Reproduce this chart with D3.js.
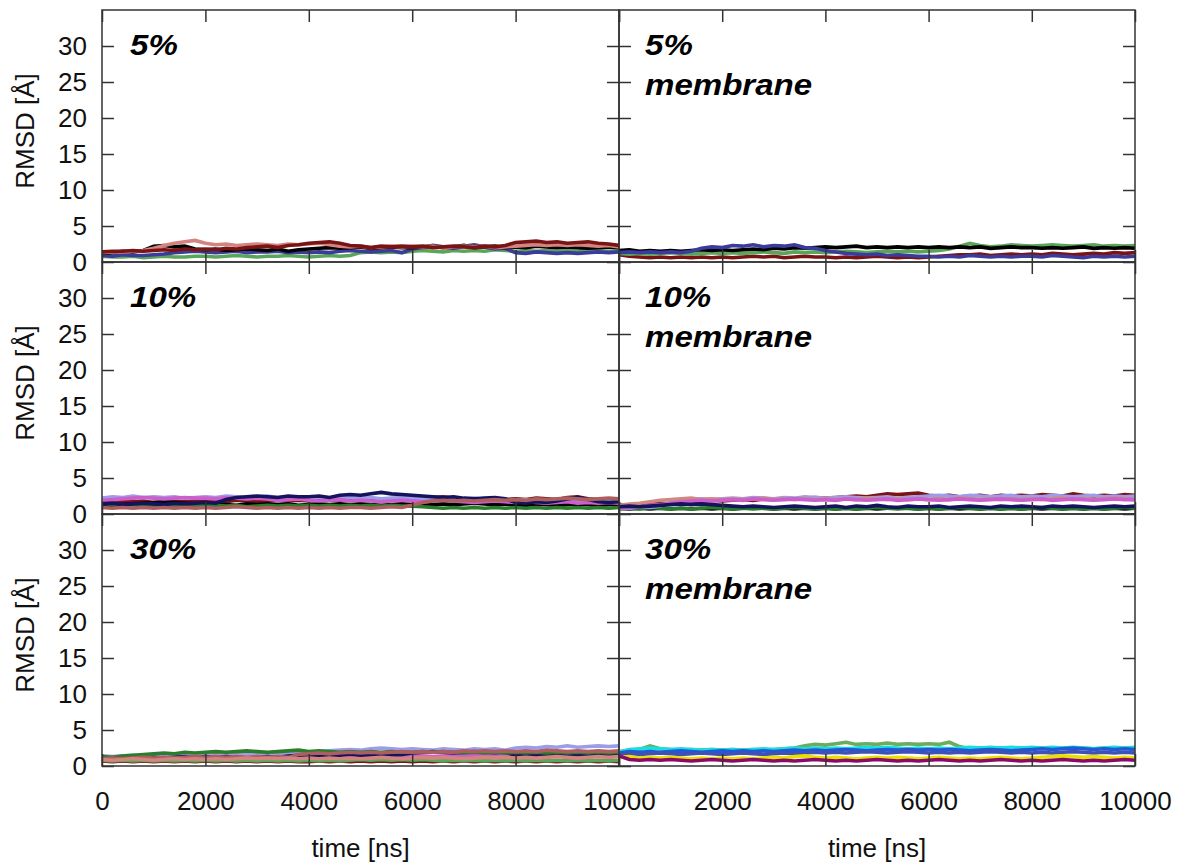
<!DOCTYPE html>
<html>
<head>
<meta charset="utf-8">
<script src="https://cdn.jsdelivr.net/npm/d3@7"></script>
<style>
  html, body { margin: 0; padding: 0; background: #fff; }
  svg { display: block; font-family: "Liberation Sans", Arial, sans-serif; }
</style>
</head>
<body>
<svg id="chart" width="1180" height="866"></svg>
<script>
// Sampling grid of the RMSD traces (ns)
const timeNs = d3.range(0, 10001, 200);

const xTickValues = [0, 2000, 4000, 6000, 8000, 10000];
const yTickValues = [0, 5, 10, 15, 20, 25, 30];
const xLabel = "time [ns]";
const yLabel = "RMSD [Å]";

// ---- 5% ----
const c5_darkred = [1.4,1.5,1.5,1.6,1.5,1.6,1.7,1.6,1.8,1.7, 1.8,1.7,1.9,1.8,2.0,2.1,2.2,2.0,2.3,2.4, 2.6,2.7,2.8,2.6,2.3,2.2,2.0,2.2,2.1,2.2, 2.1,2.2,2.0,2.1,2.2,2.1,2.0,2.2,2.1,2.3, 2.7,2.8,2.9,2.7,2.8,2.6,2.7,2.8,2.6,2.5, 2.3];
const c5_salmon  = [1.3,1.4,1.4,1.5,1.6,1.9,2.3,2.6,2.8,3.0, 2.6,2.4,2.5,2.3,2.4,2.5,2.4,2.3,2.5,2.4, 2.5,2.6,2.4,2.2,2.1,2.2,2.0,2.1,2.2,2.1, 2.2,2.1,2.2,2.0,2.1,2.2,2.1,2.2,2.0,2.1, 2.2,2.3,2.4,2.3,2.4,2.3,2.4,2.3,2.2,2.3, 2.1];
const c5_black   = [1.2,1.3,1.5,1.4,1.6,2.2,2.3,2.1,2.2,1.8, 1.7,1.8,1.6,1.7,1.8,1.7,1.6,1.8,1.5,1.7, 1.8,1.9,2.0,1.9,2.0,2.1,1.9,2.0,2.1,2.0, 2.0,2.1,2.2,2.0,2.1,2.3,2.0,2.1,2.2,2.0, 2.1,2.0,2.2,2.1,2.0,2.1,2.0,1.9,2.0,2.1, 2.0];
const c5_blue    = [0.9,0.8,1.0,0.9,0.9,1.0,1.1,1.3,1.4,1.5, 1.4,1.3,1.4,1.5,1.3,1.4,1.4,1.5,1.3,1.4, 1.3,1.4,1.3,1.5,1.6,1.5,1.4,1.5,1.6,1.3, 1.8,2.0,2.3,2.1,1.9,2.2,2.4,2.1,1.8,1.9, 1.3,1.2,1.4,1.3,1.2,1.3,1.2,1.3,1.4,1.3, 1.4];
const c5_green   = [0.8,0.7,0.7,0.8,0.6,0.7,0.8,0.7,0.7,0.8, 0.8,0.7,0.8,0.9,0.8,0.7,0.8,0.8,0.9,0.8, 0.7,0.8,0.9,0.8,0.9,1.3,1.4,1.3,1.4,1.3, 1.5,1.6,1.5,1.4,1.6,1.5,1.6,1.5,1.7,1.6, 1.5,1.6,1.5,1.6,1.5,1.6,1.5,1.7,1.6,1.5, 1.6];

// ---- 5% membrane ----
const m5_darkred = [1.0,0.8,0.7,0.6,0.7,0.6,0.7,0.6,0.7,0.6, 0.7,0.6,0.7,0.8,0.7,0.8,0.6,0.7,0.8,0.7, 0.7,0.6,0.7,0.6,0.7,0.8,0.7,0.6,0.7,0.6, 0.7,0.8,0.9,1.0,1.0,1.1,0.9,1.0,1.1,1.0, 1.1,1.0,1.2,1.1,1.0,1.1,1.2,1.1,1.3,1.2, 1.3];
const m5_green   = [1.2,1.1,1.2,1.1,1.2,1.3,1.2,1.1,1.2,1.3, 1.2,1.3,1.2,1.3,1.4,1.3,1.2,1.4,1.3,1.4, 1.3,1.4,1.5,1.4,1.3,1.4,1.5,1.4,1.5,1.4, 1.5,1.6,1.8,2.2,2.6,2.3,2.1,2.2,2.4,2.3, 2.2,2.3,2.4,2.3,2.2,2.3,2.4,2.2,2.3,2.2, 2.3];
const m5_black   = [1.6,1.7,1.5,1.6,1.5,1.6,1.5,1.6,1.7,1.6, 1.7,1.6,1.7,1.8,1.7,1.9,1.8,2.0,1.9,2.0, 2.1,2.0,2.1,2.2,2.0,2.1,2.0,2.1,2.0,2.1, 2.0,2.1,2.0,2.1,2.0,2.1,1.9,2.0,2.1,2.0, 2.0,1.9,2.0,1.9,2.0,2.1,1.9,2.0,1.9,2.0, 1.9];
const m5_blue    = [1.3,1.4,1.3,1.4,1.3,1.4,1.3,1.5,1.9,2.1, 2.0,2.3,2.2,2.4,2.1,2.3,2.2,2.4,2.0,1.9, 1.6,1.4,1.2,1.1,1.0,1.1,0.9,1.0,0.9,0.8, 0.8,0.7,0.8,0.7,0.9,0.8,0.7,0.8,0.7,0.8, 0.8,0.7,0.9,0.8,0.7,0.6,0.8,0.7,0.8,0.7, 0.8];

// ---- 10% ----
const c10_darkred  = [1.8,1.7,1.8,1.7,1.8,1.6,1.7,1.8,1.7,1.8, 1.7,1.8,1.7,1.9,1.8,1.7,1.8,1.9,1.8,1.9, 1.8,1.9,2.0,1.9,2.0,1.9,2.0,2.1,2.0,2.1, 2.0,2.1,2.3,2.4,2.2,2.0,2.1,2.0,1.9,2.0, 2.1,2.0,2.2,2.1,2.0,2.3,2.4,2.1,2.0,2.1, 2.0];
const c10_lavender = [2.2,2.4,2.3,2.5,2.3,2.4,2.3,2.4,2.2,2.3, 2.4,2.3,2.5,2.4,2.3,2.4,2.5,2.3,2.4,2.3, 2.4,2.3,2.2,2.4,2.3,2.2,2.3,2.1,2.2,2.3, 2.2,2.1,2.3,2.2,2.0,2.1,2.2,2.0,2.1,2.0, 1.9,2.0,1.8,1.9,2.0,1.8,1.9,1.8,1.7,1.8, 1.7];
const c10_black    = [1.3,1.2,1.3,1.4,1.5,1.6,1.7,1.6,1.5,1.4, 1.3,1.4,1.3,1.2,1.4,1.3,1.4,1.3,1.4,1.2, 1.3,1.4,1.3,1.4,1.3,1.4,1.3,1.2,1.3,1.4, 1.3,1.4,1.3,1.4,1.3,1.4,1.5,1.4,1.3,1.4, 1.3,1.2,1.4,1.3,1.2,1.3,1.4,1.3,1.2,1.3, 1.3];
const c10_orchid   = [1.9,2.0,2.1,2.2,2.3,2.2,2.1,2.2,2.3,2.2, 2.2,2.1,2.3,2.2,2.1,2.2,2.1,1.9,2.0,2.1, 1.9,1.8,1.9,2.0,1.8,1.9,1.8,1.7,1.8,1.9, 1.8,1.7,1.8,1.9,1.8,1.7,1.6,1.7,1.8,1.7, 1.6,1.7,1.6,1.5,1.6,1.7,1.5,1.6,1.5,1.6, 1.5];
const c10_green    = [1.5,1.3,1.2,1.3,1.1,1.2,1.1,1.2,1.1,1.2, 1.1,1.2,1.1,1.2,1.0,1.1,1.2,1.1,1.2,1.1, 1.2,1.1,1.2,1.1,1.2,1.1,1.2,1.1,1.2,1.1, 1.1,1.0,0.9,0.8,0.9,0.8,0.9,0.8,0.9,0.8, 0.9,0.8,0.9,0.8,0.9,0.8,0.9,0.8,0.9,0.8, 0.9];
const c10_navy     = [1.4,1.5,1.3,1.4,1.5,1.4,1.3,1.5,1.4,1.5, 1.6,1.5,2.0,2.3,2.4,2.5,2.4,2.3,2.5,2.4, 2.4,2.5,2.3,2.6,2.7,2.6,2.8,3.0,2.8,2.7, 2.6,2.5,2.4,2.3,2.4,2.2,2.1,2.2,2.3,2.1, 1.6,1.5,1.7,1.6,1.8,2.1,2.3,2.0,1.7,1.6, 1.7];
const c10_rosy     = [0.9,0.8,0.9,0.8,0.9,0.8,0.9,0.8,0.9,0.8, 0.9,0.8,0.9,1.0,0.9,0.8,0.9,0.8,0.9,0.8, 0.9,0.8,0.9,0.8,0.9,0.9,0.8,0.9,1.0,0.9, 1.2,1.6,1.8,1.9,1.8,1.9,1.8,1.9,2.0,1.9, 2.0,1.9,2.1,2.0,2.1,2.2,2.1,2.0,2.1,2.2, 2.1];

// ---- 10% membrane ----
const m10_black    = [0.8,0.7,0.8,0.7,0.8,0.7,0.8,0.7,0.8,0.7, 0.8,0.7,0.8,0.9,0.8,0.7,0.8,0.7,0.8,0.7, 0.8,0.7,0.8,0.7,0.8,0.7,0.8,0.9,0.8,0.7, 0.8,0.7,0.8,0.7,0.8,0.7,0.8,0.7,0.8,0.7, 0.8,0.7,0.8,0.7,0.8,0.7,0.8,0.7,0.8,0.7, 0.8];
const m10_green    = [0.7,0.8,0.7,0.9,0.8,0.7,0.8,0.7,0.8,0.9, 0.8,0.7,0.8,0.7,0.8,0.7,0.8,0.9,0.8,0.7, 0.8,0.7,0.8,0.7,0.8,0.9,0.8,0.7,0.8,0.7, 0.8,0.7,0.8,0.9,0.8,0.7,0.8,0.7,0.8,0.7, 0.8,0.9,0.8,0.7,0.8,0.7,0.8,0.7,0.8,0.9, 0.8];
const m10_darkred  = [1.3,1.2,1.3,1.4,1.5,1.4,1.6,1.7,1.8,1.9, 1.8,1.9,2.0,1.9,2.1,2.0,2.2,2.1,2.2,2.3, 2.2,2.3,2.4,2.5,2.4,2.6,2.8,2.7,2.8,2.9, 2.6,2.5,2.6,2.4,2.5,2.6,2.4,2.6,2.5,2.6, 2.5,2.7,2.6,2.5,2.8,2.6,2.5,2.6,2.5,2.7, 2.6];
const m10_lavender = [0.9,0.8,1.0,0.9,1.1,1.6,1.9,2.0,2.1,2.0, 2.1,2.2,2.1,2.3,2.2,2.1,2.3,2.2,2.4,2.3, 2.2,2.3,2.4,2.3,2.2,2.3,2.4,2.2,2.3,2.4, 2.5,2.6,2.5,2.4,2.6,2.5,2.4,2.5,2.6,2.4, 2.5,2.4,2.6,2.5,2.4,2.5,2.6,2.4,2.5,2.4, 2.5];
const m10_rosy     = [1.2,1.4,1.5,1.7,1.9,2.0,2.1,2.2,2.0,2.1, 2.0,2.1,2.0,2.1,2.2,2.0,2.1,2.0,2.1,2.0, 2.1,2.0,2.1,2.0,2.2,2.1,2.0,2.1,2.0,2.1, 2.0,2.1,2.0,2.2,2.1,2.0,2.1,2.0,2.1,2.0, 2.1,2.0,2.1,2.2,2.0,2.1,2.0,2.1,2.2,2.1, 2.0];
const m10_orchid   = [0.8,0.9,1.0,1.2,1.3,1.5,1.7,1.8,1.9,1.8, 1.9,2.0,1.9,2.1,2.0,1.9,2.0,2.1,2.0,1.9, 2.0,1.9,2.1,2.0,1.9,2.0,2.1,1.9,2.0,2.1, 2.0,1.9,2.0,2.1,2.0,1.9,2.0,2.1,2.0,1.9, 2.0,2.1,1.9,2.0,2.1,2.0,1.9,2.0,2.1,2.0, 2.0];
const m10_navy     = [1.0,1.1,1.0,1.1,1.2,1.3,1.4,1.3,1.4,1.3, 1.2,1.1,1.0,1.1,1.0,0.9,1.0,1.1,1.0,0.9, 1.0,1.1,0.9,1.1,1.0,1.2,1.0,0.9,1.1,1.0, 1.0,1.1,0.9,1.0,1.1,1.0,0.9,1.1,1.0,1.1, 1.0,0.9,1.1,1.0,1.1,1.0,0.9,1.0,1.1,1.0, 1.1];

// ---- 30% ----
const c30_darkred  = [0.7,0.6,0.7,0.6,0.7,0.6,0.7,0.6,0.7,0.6, 0.7,0.6,0.7,0.6,0.7,0.6,0.7,0.6,0.7,0.6, 0.6,0.7,0.6,0.7,0.6,0.7,0.6,0.7,0.6,0.7, 0.6,0.7,0.6,0.7,0.6,0.7,0.6,0.7,0.6,0.7, 0.6,0.7,0.6,0.7,0.6,0.7,0.6,0.7,0.6,0.7, 0.6];
const c30_ltgreen  = [0.8,0.7,0.8,0.7,0.8,0.7,0.8,0.7,0.8,0.7, 0.8,0.7,0.8,0.7,0.8,0.7,0.8,0.7,0.8,0.7, 0.8,0.7,0.8,0.7,0.8,0.9,0.8,0.9,0.8,0.9, 0.8,0.9,0.8,0.7,0.8,0.7,0.8,0.7,0.8,0.7, 0.8,0.7,0.8,0.7,0.8,0.7,0.8,0.7,0.8,0.7, 0.8];
const c30_orchid   = [1.0,1.1,1.0,1.2,1.1,1.0,1.1,1.2,1.1,1.2, 1.1,1.2,1.3,1.2,1.1,1.2,1.3,1.2,1.3,1.2, 1.3,1.4,1.3,1.2,1.3,1.4,1.3,1.4,1.3,1.4, 1.5,1.4,1.3,1.4,1.5,1.4,1.5,1.4,1.3,1.4, 1.5,1.4,1.5,1.4,1.5,1.6,1.5,1.4,1.5,1.4, 1.5];
const c30_lavender = [1.4,1.3,1.4,1.5,1.4,1.5,1.4,1.6,1.5,1.6, 1.5,1.6,1.5,1.6,1.7,1.6,1.7,1.8,1.7,1.8, 1.9,2.0,2.1,2.2,2.3,2.2,2.4,2.5,2.4,2.3, 2.4,2.3,2.2,2.4,2.3,2.2,2.4,2.3,2.4,2.2, 2.5,2.6,2.5,2.7,2.6,2.8,2.6,2.7,2.8,2.7, 2.8];
const c30_navy     = [1.1,1.0,1.1,1.2,1.1,1.2,1.1,1.2,1.3,1.2, 1.3,1.2,1.3,1.2,1.1,1.2,1.3,1.2,1.4,1.5, 1.4,1.3,1.2,1.5,1.6,1.5,1.4,1.6,1.5,1.6, 1.8,1.9,2.0,1.9,1.8,1.9,2.0,1.9,1.8,1.9, 1.5,1.4,1.5,1.6,1.4,1.5,1.6,1.5,1.4,1.5, 1.5];
const c30_green    = [1.3,1.2,1.4,1.5,1.6,1.7,1.8,1.7,1.9,1.8, 1.9,2.0,1.9,2.0,2.1,2.0,1.9,2.0,2.1,2.2, 2.0,2.1,2.0,1.9,2.0,1.9,2.0,1.9,2.0,1.9, 1.9,2.0,1.9,2.0,1.9,1.8,1.9,1.8,1.9,1.8, 1.9,1.8,1.9,1.8,1.9,1.8,1.9,1.8,1.9,1.8, 1.9];
const c30_rosy     = [1.0,1.1,1.0,1.1,1.2,1.1,1.2,1.1,1.2,1.3, 1.2,1.3,1.2,1.3,1.2,1.3,1.2,1.3,1.2,1.6, 1.7,1.8,1.7,1.8,1.9,1.8,1.9,1.8,1.9,2.0, 1.9,2.0,1.9,2.0,1.9,2.1,2.0,2.1,2.0,2.1, 2.0,2.1,2.0,2.2,2.1,2.0,2.1,2.0,2.1,2.0, 2.1];
const c30_salmon   = [0.9,0.8,0.9,1.0,0.9,0.8,0.9,1.0,0.9,1.0, 0.9,1.0,0.9,1.0,1.1,1.0,1.1,1.0,1.1,1.0, 1.1,1.0,1.1,1.0,1.1,1.0,1.1,1.2,1.1,1.0, 1.1,1.2,1.1,1.2,1.1,1.0,1.1,1.2,1.1,1.2, 1.1,1.2,1.1,1.2,1.3,1.2,1.1,1.2,1.3,1.2, 1.3];

// ---- 30% membrane ----
const m30_ltgreen = [2.0,2.2,2.3,2.8,2.4,2.3,2.2,2.3,2.2,2.3, 2.2,2.3,2.2,2.3,2.2,2.3,2.4,2.5,2.8,3.0, 2.9,3.1,3.3,3.0,3.1,3.0,3.2,3.0,3.1,3.0, 3.1,3.0,3.3,2.7,2.4,2.5,2.4,2.5,2.4,2.5, 2.4,2.5,2.4,2.5,2.4,2.5,2.4,2.5,2.4,2.5, 2.4];
const m30_cyan    = [1.9,2.3,2.4,2.5,2.4,2.3,2.4,2.3,2.2,2.3, 2.2,2.3,2.2,2.3,2.4,2.3,2.4,2.5,2.4,2.5, 2.4,2.5,2.4,2.5,2.6,2.5,2.6,2.5,2.4,2.5, 2.4,2.5,2.4,2.5,2.6,2.5,2.6,2.5,2.6,2.5, 2.6,2.5,2.6,2.5,2.6,2.5,2.4,2.5,2.6,2.5, 2.6];
const m30_royal   = [1.8,2.0,1.9,2.0,1.9,2.0,2.1,2.0,1.9,2.0, 2.1,2.0,2.1,2.0,2.1,2.0,2.1,2.2,2.1,2.2, 2.1,2.2,2.3,2.2,2.1,2.2,2.3,2.2,2.3,2.2, 2.3,2.2,2.3,2.2,2.1,2.2,2.3,2.2,2.1,2.2, 2.3,2.4,2.3,2.4,2.5,2.4,2.3,2.4,2.3,2.4, 2.3];
const m30_slate   = [1.6,1.7,1.6,1.7,1.8,1.7,1.6,1.7,1.8,1.7, 1.6,1.7,1.8,1.7,1.6,1.7,1.8,1.7,1.8,1.9, 1.8,1.9,1.8,1.9,2.0,1.9,1.8,1.9,2.0,1.9, 1.8,1.9,1.8,1.9,1.8,1.9,2.0,1.9,1.8,1.9, 1.8,1.9,1.8,1.9,2.0,1.9,1.8,1.9,1.8,1.9, 1.8];
const m30_yellow  = [1.2,1.3,1.1,1.2,1.1,1.2,1.1,1.0,1.1,1.0, 1.1,1.0,1.1,1.0,1.1,1.2,1.1,1.3,1.4,1.2, 1.1,1.2,1.1,1.0,1.1,1.2,1.1,1.2,1.1,1.0, 1.1,1.2,1.1,1.0,1.1,1.0,1.1,1.2,1.1,1.0, 1.1,1.2,1.3,1.4,1.3,1.2,1.3,1.2,1.1,1.2, 1.1];
const m30_purple  = [1.4,0.9,0.8,0.9,0.8,0.9,0.8,0.7,0.8,0.9, 0.8,0.7,0.8,0.9,0.8,0.7,0.8,0.7,0.8,0.9, 0.8,0.7,0.8,0.7,0.8,0.9,0.8,0.7,0.8,0.7, 0.8,0.9,0.8,0.7,0.8,0.7,0.8,0.9,0.8,0.7, 0.8,0.7,0.8,0.9,0.8,0.7,0.8,0.7,0.8,0.9, 0.8];

// Panel layout: column 0 = bulk, column 1 = membrane; traces listed back to front
const panels = [
  { row: 0, col: 0, title: ["5%"], traces: [
    [c5_green, "#5aa55a"], [c5_blue, "#3b3b9c"], [c5_black, "#000000"], [c5_salmon, "#d4837e"], [c5_darkred, "#7a1414"] ] },
  { row: 0, col: 1, title: ["5%", "membrane"], traces: [
    [m5_darkred, "#7a1414"], [m5_green, "#5aa55a"], [m5_black, "#000000"], [m5_blue, "#3b3b9c"] ] },
  { row: 1, col: 0, title: ["10%"], traces: [
    [c10_darkred, "#7a1414"], [c10_lavender, "#9c9ce8"], [c10_black, "#000000"], [c10_orchid, "#cc5fcc"], [c10_green, "#2a7d2a"], [c10_navy, "#13135e"], [c10_rosy, "#ad5f5f"] ] },
  { row: 1, col: 1, title: ["10%", "membrane"], traces: [
    [m10_black, "#000000"], [m10_green, "#2a7d2a"], [m10_darkred, "#7a1414"], [m10_lavender, "#9c9ce8"], [m10_rosy, "#cf8a80"], [m10_orchid, "#cc5fcc"], [m10_navy, "#13135e"] ] },
  { row: 2, col: 0, title: ["30%"], traces: [
    [c30_darkred, "#7a1414"], [c30_ltgreen, "#5aa55a"], [c30_orchid, "#cc5fcc"], [c30_lavender, "#9c9ce8"], [c30_navy, "#13135e"], [c30_green, "#2a7d2a"], [c30_rosy, "#ad5f5f"], [c30_salmon, "#d4837e"] ] },
  { row: 2, col: 1, title: ["30%", "membrane"], traces: [
    [m30_ltgreen, "#6aad5e"], [m30_cyan, "#18dede"], [m30_royal, "#2257d6"], [m30_slate, "#4050b4"], [m30_yellow, "#e8e000"], [m30_purple, "#8a0a6a"] ] }
];

const svg = d3.select("#chart");
const colX = [[102, 619], [619, 1135]];
const rowTop = [10, 262, 514];
const rowH = 252;
const tickLen = 12;
const fontSize = 26;
const fmtInt = d3.format("d");

panels.forEach(p => {
  const [x0, x1] = colX[p.col];
  const y0 = rowTop[p.row];
  const x = d3.scaleLinear().domain([0, 10000]).range([x0, x1]);
  const y = d3.scaleLinear().domain([0, 35]).range([y0 + rowH, y0]);
  const g = svg.append("g");

  // traces
  const clipId = `clip-${p.row}-${p.col}`;
  g.append("clipPath").attr("id", clipId)
    .append("rect").attr("x", x0).attr("y", y0).attr("width", x1 - x0).attr("height", rowH);
  const line = d3.line().x((d, i) => x(timeNs[i])).y(d => y(d));
  const traceG = g.append("g").attr("clip-path", `url(#${clipId})`);
  p.traces.forEach(([vals, color]) => {
    traceG.append("path").datum(vals)
      .attr("d", line)
      .attr("fill", "none")
      .attr("stroke", color)
      .attr("stroke-width", 3.6)
      .attr("stroke-linejoin", "miter");
  });

  // mirrored inward ticks on all four sides
  const styleAxis = sel => {
    sel.select(".domain").remove();
    sel.selectAll(".tick line").attr("stroke", "#333").attr("stroke-width", 1.5);
    sel.selectAll(".tick text").attr("fill", "#111").style("font-size", fontSize + "px")
      .style("font-family", '"Liberation Sans", Arial, sans-serif');
  };

  const left = d3.axisLeft(y).tickValues(yTickValues).tickSize(-tickLen).tickPadding(15);
  if (p.col === 1) left.tickFormat("");
  g.append("g").attr("transform", `translate(${x0},0)`).call(left).call(styleAxis);

  g.append("g").attr("transform", `translate(${x1},0)`)
    .call(d3.axisRight(y).tickValues(yTickValues).tickSize(-tickLen).tickFormat(""))
    .call(styleAxis);

  g.append("g").attr("transform", `translate(0,${y0})`)
    .call(d3.axisTop(x).tickValues(xTickValues).tickSize(-tickLen).tickFormat(""))
    .call(styleAxis);

  const bottom = d3.axisBottom(x).tickValues(xTickValues).tickSize(-tickLen).tickPadding(26);
  if (p.row !== 2) bottom.tickFormat("");
  else if (p.col === 1) bottom.tickFormat(d => d === 0 ? "" : fmtInt(d));
  else bottom.tickFormat(fmtInt);
  g.append("g").attr("transform", `translate(0,${y0 + rowH})`).call(bottom).call(styleAxis);

  // frame
  g.append("rect").attr("x", x0).attr("y", y0).attr("width", x1 - x0).attr("height", rowH)
    .attr("fill", "none").attr("stroke", "#333").attr("stroke-width", 1.5);

  // panel title (bold italic, slightly widened)
  const tx = x0 + (p.col === 0 ? 28 : 26);
  const title = g.append("text")
    .attr("transform", `translate(${tx},${y0 + 45}) scale(1.14,1)`)
    .attr("font-size", 29)
    .attr("font-weight", "bold")
    .attr("font-style", "italic")
    .attr("fill", "#000");
  p.title.forEach((t, i) => {
    title.append("tspan").attr("x", 0).attr("dy", i === 0 ? 0 : 40).text(t);
  });

  // y axis label on the left column
  if (p.col === 0) {
    svg.append("text")
      .attr("transform", `translate(34,${y0 + 121}) rotate(-90)`)
      .attr("text-anchor", "middle")
      .attr("font-size", fontSize)
      .attr("fill", "#111")
      .text(yLabel);
  }
  // x axis label under the bottom row
  if (p.row === 2) {
    svg.append("text")
      .attr("x", (x0 + x1) / 2)
      .attr("y", 857)
      .attr("text-anchor", "middle")
      .attr("font-size", fontSize)
      .attr("fill", "#111")
      .text(xLabel);
  }
});
</script>
</body>
</html>
